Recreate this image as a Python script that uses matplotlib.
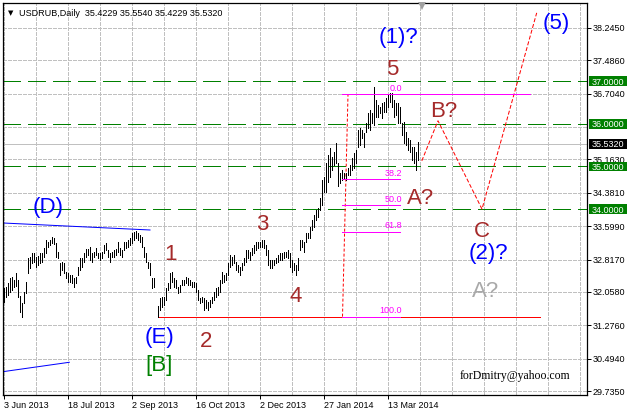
import matplotlib
matplotlib.use('Agg')
import matplotlib.pyplot as plt
import numpy as np
from matplotlib.transforms import blended_transform_factory
from matplotlib.patches import Rectangle

plt.rcParams['font.family'] = ['Liberation Sans', 'DejaVu Sans']

# ---------------- data ----------------
nan = float('nan')
highs = [
    32.15, 32.17, 32.27, 32.39, 32.41, 32.34, 32.50, 32.34, 31.96, 31.80,
    32.06, 32.29, 32.85, 32.88, 32.97, 32.97, 32.88, 32.90, 32.97, 32.97,
    33.09, 33.28, 33.23, 33.28, 33.35, 33.32, 33.21, 32.99, 32.74, 32.76,
    32.74, 32.53, 32.50, 32.46, 32.46, 32.39, 32.41, 32.64, 32.85, 32.85,
    32.97, 33.06, 33.06, 33.11, 32.97, 32.99, 33.09, 32.97, 32.97, 32.99,
    33.16, 33.21, 33.04, 32.97, 32.99, 33.04, 33.06, 33.23, 33.09, 33.04,
    33.23, 33.23, 33.28, 33.32, 33.44, 33.46, 33.49, 33.44, 33.39, 33.35,
    33.11, 32.97, 32.76, 32.74, 32.39, 32.39, nan, 31.73, 31.92, 31.94,
    31.94, 32.15, 32.27, 32.50, 32.53, 32.39, 32.34, 32.17, 32.22, 32.34,
    32.34, 32.41, 32.39, 32.34, 32.29, 32.29, 32.27, 32.10, 31.92, 31.94,
    31.92, 31.87, 31.82, 31.87, 31.94, 32.06, 32.15, 32.17, 32.34, 32.53,
    32.46, 32.50, 32.74, 32.92, 32.88, 32.92, 32.76, 32.69, 32.64, 32.74,
    32.85, 33.04, 33.04, 32.99, 33.09, 33.16, 33.23, 33.23, 33.23, 33.28,
    33.28, 33.16, 33.04, 32.81, 32.81, 32.81, 32.85, 32.92, 32.97, 32.97,
    32.99, 32.99, 33.04, 32.97, 32.81, 32.74, 32.69, 32.85, 33.28, 33.28,
    33.23, 33.44, 33.44, 33.58, 33.74, 33.86, 33.98, 34.03, 34.26, 34.68,
    34.75, 35.08, 35.27, 35.43, 35.22, 35.34, 35.55, 35.08, 34.85, 34.92,
    34.85, 34.85, 34.96, 35.03, 35.20, 35.32, 35.39, 35.85, 35.90, 35.85,
    35.78, 36.02, 36.25, 36.32, 36.25, 36.86, 36.56, 36.44, 36.39, 36.49,
    36.51, 36.60, 36.67, 36.72, 36.72, 36.56, 36.49, 36.49, 36.39, 36.02,
    36.04, 35.81, 35.67, 35.62, 35.46, 35.46, 35.34, 35.57]
lows = [
    31.82, 31.94, 31.99, 32.06, 32.10, 32.17, 32.20, 31.94, 31.59, 31.47,
    31.80, 32.03, 32.50, 32.62, 32.74, 32.76, 32.64, 32.69, 32.74, 32.76,
    32.88, 32.97, 33.11, 33.16, 33.21, 33.18, 32.88, 32.85, 32.46, 32.57,
    32.50, 32.39, 32.29, 32.29, 32.27, 32.17, 32.27, 32.46, 32.57, 32.64,
    32.76, 32.88, 32.92, 32.81, 32.76, 32.88, 32.92, 32.85, 32.81, 32.85,
    32.97, 33.04, 32.88, 32.76, 32.88, 32.88, 32.92, 32.99, 32.92, 32.88,
    33.04, 33.09, 33.11, 33.16, 33.21, 33.28, 33.32, 33.28, 33.23, 33.11,
    32.88, 32.76, 32.62, 32.46, 32.15, 32.17, nan, 31.47, 31.64, 31.71,
    31.75, 31.87, 32.10, 32.15, 32.29, 32.17, 32.15, 32.03, 32.06, 32.22,
    32.22, 32.27, 32.22, 32.22, 32.17, 32.17, 32.06, 31.87, 31.80, 31.82,
    31.64, 31.68, 31.64, 31.71, 31.80, 31.87, 31.94, 31.99, 32.06, 32.27,
    32.29, 32.34, 32.46, 32.64, 32.69, 32.74, 32.57, 32.53, 32.46, 32.57,
    32.69, 32.76, 32.85, 32.81, 32.92, 32.97, 33.04, 33.09, 33.11, 33.11,
    33.09, 32.92, 32.69, 32.62, 32.62, 32.69, 32.74, 32.76, 32.81, 32.81,
    32.85, 32.88, 32.85, 32.64, 32.53, 32.57, 32.46, 32.57, 33.04, 33.11,
    32.99, 33.23, 33.32, 33.32, 33.51, 33.58, 33.74, 33.82, 33.98, 34.10,
    34.40, 34.40, 34.64, 34.75, 34.92, 35.03, 35.08, 34.55, 34.60, 34.68,
    34.73, 34.68, 34.80, 34.80, 34.92, 34.96, 35.08, 35.46, 35.50, 35.67,
    35.46, 35.81, 35.90, 35.85, 36.02, 35.97, 36.16, 36.16, 36.25, 36.14,
    36.28, 36.28, 36.39, 36.51, 36.39, 36.16, 36.21, 36.02, 36.02, 35.74,
    35.55, 35.50, 35.39, 35.34, 35.15, 35.08, 34.92, 35.15]

tick_bars = [0, 32, 64, 96, 128, 160, 192]
tick_labels = ['3 Jun 2013', '18 Jul 2013', '2 Sep 2013', '16 Oct 2013',
               '2 Dec 2013', '27 Jan 2014', '13 Mar 2014']
price_ticks = [38.2450, 37.4860, 36.7040, 35.1630, 34.3810, 33.5990,
               32.8170, 32.0580, 31.2760, 30.4940, 29.7350]
hidden_grid_price = 35.924
level_prices = [37.0, 36.0, 35.0, 34.0]
last_price = 35.5320
header = 'USDRUB,Daily  35.4229 35.5540 35.4229 35.5320'

# Fibonacci retracement
fib_levels = [0.0, 38.2, 50.0, 61.8, 100.0]
fib_high = 36.69
fib_low = 31.48
fib_anchor_bars = [169.25, 172.0]
fib_start_bar = 168.8
fib_short_end_bar = 198.0
fib_zero_end_bar = 263.0

# support line at the (E) low
e_line_bars = [77, 268]
e_line_price = 31.48

# projected path (red dashed)
proj_bars = [208.9, 217.0, 239.0, 266.35]
proj_prices = [35.13, 36.07, 34.00, 38.60]

# blue triangle lines
upper_bars = [-0.5, 73.0]
upper_prices = [33.674, 33.510]
lower_bars = [-0.5, 32.65]
lower_prices = [30.189, 30.409]

# wave labels: text, bar, baseline price, colour
BLUE = '#0000FF'
BROWN = '#A52A2A'
GRAY = '#A9A9A9'
GREEN = '#008000'
wave_labels = [
    ('(1)?', 197.0, 37.89, BLUE),
    ('5', 194.25, 37.14, BROWN),
    ('B?', 219.75, 36.16, BROWN),
    ('A?', 208.5, 34.12, BROWN),
    ('C', 238.75, 33.35, BROWN),
    ('(2)?', 242.25, 32.83, BLUE),
    ('A?', 241.0, 31.94, GRAY),
    ('(5)', 276.25, 38.22, BLUE),
    ('(D)', 22.0, 33.91, BLUE),
    ('1', 83.0, 32.81, BROWN),
    ('3', 129.25, 33.51, BROWN),
    ('2', 101.0, 30.77, BROWN),
    ('4', 146.0, 31.82, BROWN),
    ('(E)', 78.0, 30.86, BLUE),
    ('[B]', 77.5, 30.20, GREEN),
]
email = 'forDmitry@yahoo.com'
email_bar = 228.0
email_price = 30.01
shift_marker_bar = 208.9

# ---------------- figure ----------------
W, H = 628, 411
fig = plt.figure(figsize=(W / 100, H / 100), dpi=100)
fig.patch.set_facecolor('white')
ax = fig.add_axes([3 / W, 16 / H, 584 / W, 392 / H])
ax.set_xlim(-0.5, 291.5)
ax.set_ylim(29.642, 38.831)
ax.set_facecolor('white')
for s in ax.spines.values():
    s.set_color('black')
    s.set_linewidth(0.9)

LW = 0.72  # one pixel

# grid
for b in range(0, 292, 16):
    ax.axvline(b, color='#C0C0C0', lw=LW, ls=(0, (3, 2)), zorder=0, antialiased=False)
for p in price_ticks + [hidden_grid_price]:
    ax.axhline(p, color='#C0C0C0', lw=LW, ls=(0, (3, 2)), zorder=0, antialiased=False)

# last price line
ax.axhline(last_price, color='#C0C0C0', lw=LW, zorder=1, antialiased=False)

# level lines
for p in level_prices:
    ax.axhline(p, color=GREEN, lw=LW, ls=(0, (17, 7)), zorder=1, antialiased=False)

# bars
idx = np.arange(len(highs))
h = np.array(highs)
l = np.array(lows)
ok = ~np.isnan(h)
ax.vlines(idx[ok], l[ok], h[ok], color='black', lw=LW, antialiased=False, zorder=3)

# blue lines
ax.plot(upper_bars, upper_prices, color=BLUE, lw=LW, zorder=2)
ax.plot(lower_bars, lower_prices, color=BLUE, lw=LW, zorder=2)

# red support line
ax.plot(e_line_bars, [e_line_price, e_line_price], color='#FF0000', lw=LW,
        zorder=2, antialiased=False)

# fib
ax.plot(fib_anchor_bars, [fib_low, fib_high], color='#FF0000', lw=LW,
        ls=(0, (3, 2)), zorder=2)
for lv in fib_levels:
    pr = fib_high - lv / 100.0 * (fib_high - fib_low)
    end = fib_zero_end_bar if lv == 0.0 else fib_short_end_bar
    ax.plot([fib_start_bar, end], [pr, pr], color='#FF00FF', lw=LW, zorder=4,
            antialiased=False)
    ax.text(fib_short_end_bar + 1, pr + 0.04, f'{lv:.1f}', color='#FF00FF',
            fontsize=6.5, ha='right', va='bottom', zorder=5)

# projection
ax.plot(proj_bars, proj_prices, color='#FF0000', lw=LW, ls=(0, (4, 2)), zorder=2)

# wave labels
for txt, b, p, c in wave_labels:
    ax.text(b, p, txt, color=c, fontsize=16, ha='center', va='baseline', zorder=6)

ax.text(email_bar, email_price, email, family=['Liberation Serif', 'DejaVu Serif'],
        fontsize=8.5, color='black', ha='left', va='baseline', zorder=6)

# shift marker
ax.plot([shift_marker_bar], [38.77], marker='v', color='#A0A0A0', ms=5.5,
        mew=0, clip_on=False, zorder=7)

# axes ticks
ax.yaxis.tick_right()
ax.set_yticks(price_ticks)
ax.set_yticklabels([f'{p:.4f}' for p in price_ticks])
ax.set_xticks(tick_bars)
ax.set_xticklabels(tick_labels, ha='left')
ax.tick_params(axis='both', direction='out', length=3, width=LW, labelsize=6.5,
               colors='black', pad=1.2)
ax.tick_params(axis='x', pad=1.5)

# boxed labels on right
tr = blended_transform_factory(ax.transAxes, ax.transData)
box_x0 = (589 - 3) / 584
box_w = 38 / 584
box_h = 9.7 / 42.66
txt_x = (591.5 - 3) / 584
for p, fc in [(lv, GREEN) for lv in level_prices] + [(last_price, 'black')]:
    ax.add_patch(Rectangle((box_x0, p - box_h / 2), box_w, box_h, transform=tr,
                           facecolor=fc, edgecolor='none', clip_on=False, zorder=8))
    ax.text(txt_x, p, f'{p:.4f}', transform=tr, color='white', fontsize=6.5,
            ha='left', va='center_baseline', clip_on=False, zorder=9)

# header
fig.text(8 / W, 1 - 12.5 / H, '\u25BC', fontsize=5, color='black',
         family=['DejaVu Sans'], va='center_baseline', ha='left')
fig.text(19 / W, 1 - 12.5 / H, header, fontsize=6.5, color='black',
         va='center_baseline', ha='left')

fig.savefig('out.png', dpi=100, facecolor='white')
